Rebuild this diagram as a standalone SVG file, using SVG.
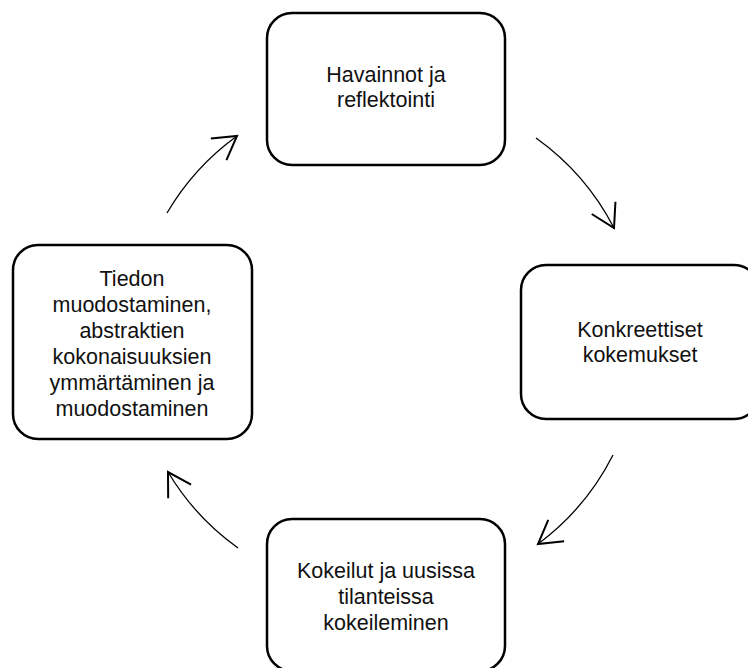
<svg xmlns="http://www.w3.org/2000/svg" width="748" height="668" viewBox="0 0 748 668">
  <style>
    .box { fill: #ffffff; stroke: #000000; stroke-width: 2.5; }
    .lbl { font-family: "Liberation Sans", Arial, sans-serif; font-size: 21.5px; fill: #111111; text-anchor: middle; }
    .arc { fill: none; stroke: #000000; stroke-width: 1.3; }
  </style>
  <defs>
    <marker id="open" markerUnits="userSpaceOnUse" orient="auto" refX="0" refY="0" markerWidth="40" markerHeight="40" viewBox="-25 -15 30 30" overflow="visible">
      <path d="M-17,-10 L0,0 L-17,10" fill="none" stroke="#000000" stroke-width="1.5"/>
    </marker>
  </defs>
  <rect x="0" y="0" width="748" height="668" fill="#ffffff"/>

  <g id="node-havainnot">
    <rect class="box" x="267" y="13" width="238" height="152" rx="25" ry="25"/>
    <text class="lbl" x="386" y="82">Havainnot ja</text>
    <text class="lbl" x="386" y="107">reflektointi</text>
  </g>

  <g id="node-konkreettiset">
    <rect class="box" x="521" y="265" width="238" height="154" rx="25" ry="25"/>
    <text class="lbl" x="640" y="337">Konkreettiset</text>
    <text class="lbl" x="640" y="362">kokemukset</text>
  </g>

  <g id="node-kokeilut">
    <rect class="box" x="267" y="519" width="238" height="152" rx="25" ry="25"/>
    <text class="lbl" x="386" y="578">Kokeilut ja uusissa</text>
    <text class="lbl" x="386" y="604">tilanteissa</text>
    <text class="lbl" x="386" y="630">kokeileminen</text>
  </g>

  <g id="node-tiedon">
    <rect class="box" x="13" y="245" width="239" height="194" rx="25" ry="25"/>
    <text class="lbl" x="132" y="286">Tiedon</text>
    <text class="lbl" x="132" y="312">muodostaminen,</text>
    <text class="lbl" x="132" y="338">abstraktien</text>
    <text class="lbl" x="132" y="364">kokonaisuuksien</text>
    <text class="lbl" x="132" y="390">ymmärtäminen ja</text>
    <text class="lbl" x="132" y="416">muodostaminen</text>
  </g>

  <g id="connectors">
    <path class="arc" d="M536,138 A253,253 0 0 1 614,228" marker-end="url(#open)"/>
    <path class="arc" d="M613,455 A253,253 0 0 1 538,544" marker-end="url(#open)"/>
    <path class="arc" d="M238,548 A253,253 0 0 1 168,472" marker-end="url(#open)"/>
    <path class="arc" d="M167,213 A253,253 0 0 1 237,136" marker-end="url(#open)"/>
  </g>
</svg>
